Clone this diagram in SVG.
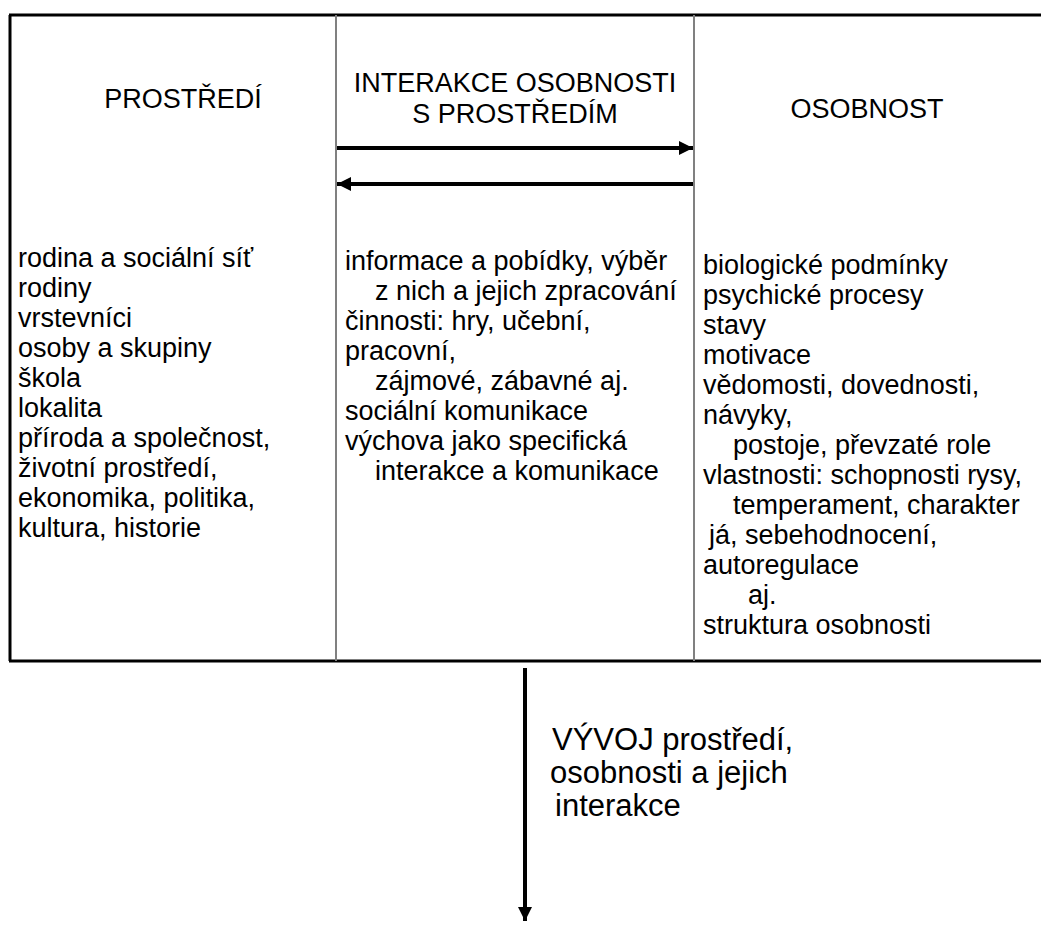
<svg xmlns="http://www.w3.org/2000/svg" width="1041" height="925" viewBox="0 0 1041 925">
<style>
text{font-family:"Liberation Sans",Arial,sans-serif;font-size:27px;fill:#000}
.h{text-anchor:middle}
.big{font-size:31px}
.frame{stroke:#000;stroke-width:3;fill:none}
.sep{stroke:#808080;stroke-width:2;fill:none}
.arr{stroke:#000;stroke-width:4;fill:none}
</style>
<defs>
<marker id="ah" viewBox="0 0 10 10" refX="10" refY="5" markerWidth="4" markerHeight="3.5" orient="auto" markerUnits="strokeWidth">
<path d="M0,0 L10,5 L0,10 z" fill="#000"/>
</marker>
</defs>
<g id="frame">
<line class="frame" x1="9" y1="15" x2="1041" y2="15"/>
<line class="frame" x1="10" y1="15" x2="10" y2="661"/>
<line class="frame" x1="9" y1="661" x2="1041" y2="661"/>
<line class="sep" x1="336" y1="15" x2="336" y2="661"/>
<line class="sep" x1="694" y1="15" x2="694" y2="661"/>
</g>
<g id="prostredi">
<text class="h" x="183" y="108">PROSTŘEDÍ</text>
<text x="18" y="267">rodina a sociální síť</text>
<text x="18" y="297">rodiny</text>
<text x="18" y="327">vrstevníci</text>
<text x="18" y="357">osoby a skupiny</text>
<text x="18" y="387">škola</text>
<text x="18" y="417">lokalita</text>
<text x="18" y="447">příroda a společnost,</text>
<text x="18" y="477">životní prostředí,</text>
<text x="18" y="507">ekonomika, politika,</text>
<text x="18" y="537">kultura, historie</text>
</g>
<g id="interakce">
<text class="h" x="515" y="92">INTERAKCE OSOBNOSTI</text>
<text class="h" x="515" y="123">S PROSTŘEDÍM</text>
<text x="345" y="270">informace a pobídky, výběr</text>
<text x="375" y="300">z nich a jejich zpracování</text>
<text x="345" y="330">činnosti: hry, učební,</text>
<text x="345" y="360">pracovní,</text>
<text x="375" y="390">zájmové, zábavné aj.</text>
<text x="345" y="420">sociální komunikace</text>
<text x="345" y="450">výchova jako specifická</text>
<text x="375" y="480">interakce a komunikace</text>
</g>
<g id="osobnost">
<text class="h" x="867" y="118">OSOBNOST</text>
<text x="703" y="274">biologické podmínky</text>
<text x="703" y="304">psychické procesy</text>
<text x="703" y="334">stavy</text>
<text x="703" y="364">motivace</text>
<text x="703" y="394">vědomosti, dovednosti,</text>
<text x="703" y="424">návyky,</text>
<text x="733" y="454">postoje, převzaté role</text>
<text x="703" y="484">vlastnosti: schopnosti rysy,</text>
<text x="733" y="514">temperament, charakter</text>
<text x="709" y="544">já, sebehodnocení,</text>
<text x="703" y="574">autoregulace</text>
<text x="748" y="604">aj.</text>
<text x="703" y="634">struktura osobnosti</text>
</g>
<g id="vyvoj">
<text class="big" x="552" y="750">VÝVOJ prostředí,</text>
<text class="big" x="550" y="783">osobnosti a jejich</text>
<text class="big" x="555" y="816">interakce</text>
</g>
<g id="connectors">
<line class="arr" x1="337" y1="148" x2="693" y2="148" marker-end="url(#ah)"/>
<line class="arr" x1="693" y1="184" x2="337" y2="184" marker-end="url(#ah)"/>
<line class="arr" x1="525" y1="668" x2="525" y2="921" marker-end="url(#ah)"/>
</g>
</svg>
